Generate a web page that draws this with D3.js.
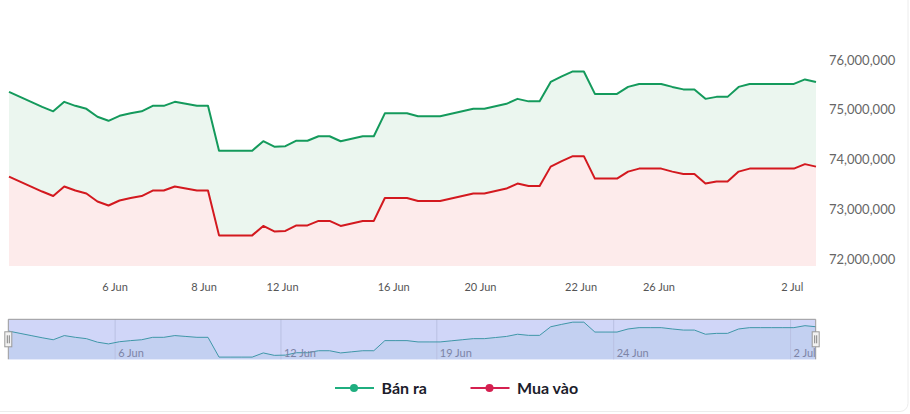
<!DOCTYPE html>
<html lang="vi">
<head>
<meta charset="utf-8">
<title>Giá vàng</title>
<script src="https://cdn.jsdelivr.net/npm/d3@7/dist/d3.min.js"></script>
<style>
  body { margin: 0; background: #fff; }
  svg { display: block; font-family: Lato, "Noto Sans", sans-serif; }
</style>
</head>
<body>
<script>
// gia ban ra / mua vao (VND), moi diem la mot lan cap nhat
const sell = [
  75360000, 75260000, 75160000, 75060000, 74970000, 75160000, 75080000, 75020000,
  74860000, 74780000, 74880000, 74930000, 74970000, 75080000, 75080000, 75160000,
  75120000, 75080000, 75080000, 74180000, 74180000, 74180000, 74180000, 74370000,
  74260000, 74270000, 74380000, 74380000, 74470000, 74470000, 74370000, 74420000,
  74470000, 74470000, 74930000, 74930000, 74930000, 74870000, 74870000, 74870000,
  74920000, 74970000, 75020000, 75020000, 75070000, 75120000, 75220000, 75170000,
  75170000, 75560000, 75670000, 75770000, 75770000, 75320000, 75320000, 75320000,
  75460000, 75520000, 75520000, 75520000, 75460000, 75410000, 75410000, 75220000,
  75260000, 75260000, 75460000, 75520000, 75520000, 75520000, 75520000, 75520000,
  75610000, 75560000
];
const buy = [
  73660000, 73560000, 73460000, 73360000, 73270000, 73460000, 73380000, 73320000,
  73160000, 73080000, 73180000, 73230000, 73270000, 73380000, 73380000, 73460000,
  73420000, 73380000, 73380000, 72480000, 72480000, 72480000, 72480000, 72670000,
  72560000, 72570000, 72680000, 72680000, 72770000, 72770000, 72670000, 72720000,
  72770000, 72770000, 73230000, 73230000, 73230000, 73170000, 73170000, 73170000,
  73220000, 73270000, 73320000, 73320000, 73370000, 73420000, 73520000, 73470000,
  73470000, 73860000, 73970000, 74070000, 74070000, 73620000, 73620000, 73620000,
  73760000, 73820000, 73820000, 73820000, 73760000, 73710000, 73710000, 73520000,
  73560000, 73560000, 73760000, 73820000, 73820000, 73820000, 73820000, 73820000,
  73910000, 73860000
];
const seriesNames = ["Bán ra", "Mua vào"];

// truc thoi gian kieu ordinal: vi tri nhan tinh theo so thu tu diem
const xTickPos = [9.55, 17.6, 24.7, 34.75, 42.6, 51.7, 58.75, 70.8];
const xTickLabels = ["6 Jun", "8 Jun", "12 Jun", "16 Jun", "20 Jun", "22 Jun", "26 Jun", "2 Jul"];
const navTickPos = [9.6, 24.6, 38.7, 54.7, 70.7];
const navTickLabels = ["6 Jun", "12 Jun", "19 Jun", "24 Jun", "2 Jul"];
const yTicks = [72000000, 73000000, 74000000, 75000000, 76000000];

const width = 910, height = 414;
const plotBottom = 266;

const svg = d3.select("body").append("svg")
  .attr("width", width)
  .attr("height", height);

// khung the bao ngoai
svg.append("rect")
  .attr("x", -20).attr("y", -20)
  .attr("width", 928).attr("height", 431.5)
  .attr("rx", 8)
  .attr("fill", "none")
  .attr("stroke", "#ececec");

let x = d3.scaleLinear().domain([0, sell.length - 1]).range([9, 816]);
let y = d3.scaleLinear().domain([72000000, 76000000]).range([259.3, 60]);

let area = d3.area()
  .x((d, i) => x(i))
  .y0(plotBottom)
  .y1(d => y(d));
let line = d3.line()
  .x((d, i) => x(i))
  .y(d => y(d));

svg.append("path").datum(sell).attr("d", area).attr("fill", "#ebf6ef");
svg.append("path").datum(buy).attr("d", area).attr("fill", "#fdebeb");
svg.append("path").datum(sell).attr("d", line)
  .attr("fill", "none").attr("stroke", "#149a5c").attr("stroke-width", 2)
  .attr("stroke-linejoin", "round");
svg.append("path").datum(buy).attr("d", line)
  .attr("fill", "none").attr("stroke", "#d3191f").attr("stroke-width", 2)
  .attr("stroke-linejoin", "round");

// truc y ben phai
let yAxis = svg.append("g")
  .attr("transform", "translate(826,0)")
  .call(d3.axisRight(y).tickValues(yTicks).tickSize(0).tickPadding(3).tickFormat(d3.format(",")));
yAxis.select(".domain").remove();
yAxis.selectAll("text")
  .attr("font-size", 13)
  .attr("fill", "#666")
  .attr("font-family", "Lato, sans-serif");

// truc x
let xAxis = svg.append("g")
  .attr("transform", "translate(0," + 281 + ")")
  .call(d3.axisBottom(x).tickValues(xTickPos).tickSize(0).tickPadding(2)
    .tickFormat((d, i) => xTickLabels[i]));
xAxis.select(".domain").remove();
xAxis.selectAll("text")
  .attr("font-size", 11)
  .attr("fill", "#555")
  .attr("font-family", "Lato, sans-serif");

// navigator
const navTop = 319.3, navBottom = 359.3;
let ny = d3.scaleLinear().domain([74080000, 75900000]).range([navBottom, navTop]);

svg.append("rect")
  .attr("x", x(0) - 0.7).attr("y", navTop)
  .attr("width", x(sell.length - 1) - x(0)).attr("height", navBottom - navTop)
  .attr("fill", "#d0d6f8");

svg.append("path").datum(sell)
  .attr("d", d3.area().x((d, i) => x(i)).y0(navBottom).y1(d => ny(d)))
  .attr("fill", "#c3d0f1");

svg.selectAll(".navgrid")
  .data(navTickPos)
  .enter().append("line")
  .attr("class", "navgrid")
  .attr("x1", d => x(d)).attr("x2", d => x(d))
  .attr("y1", navTop).attr("y2", navBottom)
  .attr("stroke", "#b9c0e2").attr("stroke-width", 1);

svg.append("path").datum(sell)
  .attr("d", d3.line().x((d, i) => x(i)).y(d => ny(d)))
  .attr("fill", "none").attr("stroke", "#3f97a8").attr("stroke-width", 1);

svg.selectAll(".navlabel")
  .data(navTickPos)
  .enter().append("text")
  .attr("class", "navlabel")
  .attr("x", d => x(d) + 3)
  .attr("y", 356.5)
  .attr("font-size", 11)
  .attr("fill", "#7d84a6")
  .text((d, i) => navTickLabels[i]);

// vien navigator
svg.append("path")
  .attr("d", "M" + (x(0) - 0.7) + "," + navBottom + "V" + navTop + "H" + (x(sell.length - 1) - 0.3) + "V" + navBottom)
  .attr("fill", "none").attr("stroke", "#999").attr("stroke-width", 1);

// tay nam hai dau
[x(0) - 0.7, x(sell.length - 1) - 0.3].forEach(hx => {
  let h = svg.append("g").attr("transform", "translate(" + hx + "," + (navTop + 20) + ")");
  h.append("rect")
    .attr("x", -3.5).attr("y", -7.5).attr("width", 7).attr("height", 15)
    .attr("fill", "#f2f2f2").attr("stroke", "#999");
  h.append("path")
    .attr("d", "M-1,-4V4M1,-4V4")
    .attr("stroke", "#666").attr("stroke-width", 0.8);
});

// chu giai
const legendColors = ["#1fae7f", "#d52050"];
const legendX = [335, 470.5];
seriesNames.forEach((name, i) => {
  let g = svg.append("g").attr("transform", "translate(" + legendX[i] + ",388)");
  g.append("line")
    .attr("x1", 0).attr("x2", 39).attr("y1", 0).attr("y2", 0)
    .attr("stroke", legendColors[i]).attr("stroke-width", 2);
  g.append("circle")
    .attr("cx", 19).attr("cy", 0).attr("r", 4)
    .attr("fill", legendColors[i]);
  g.append("text")
    .attr("x", 46.5).attr("y", 5.5)
    .attr("font-size", 16)
    .attr("font-weight", "bold")
    .attr("fill", "#1c1c2b")
    .text(name);
});
</script>
</body>
</html>
